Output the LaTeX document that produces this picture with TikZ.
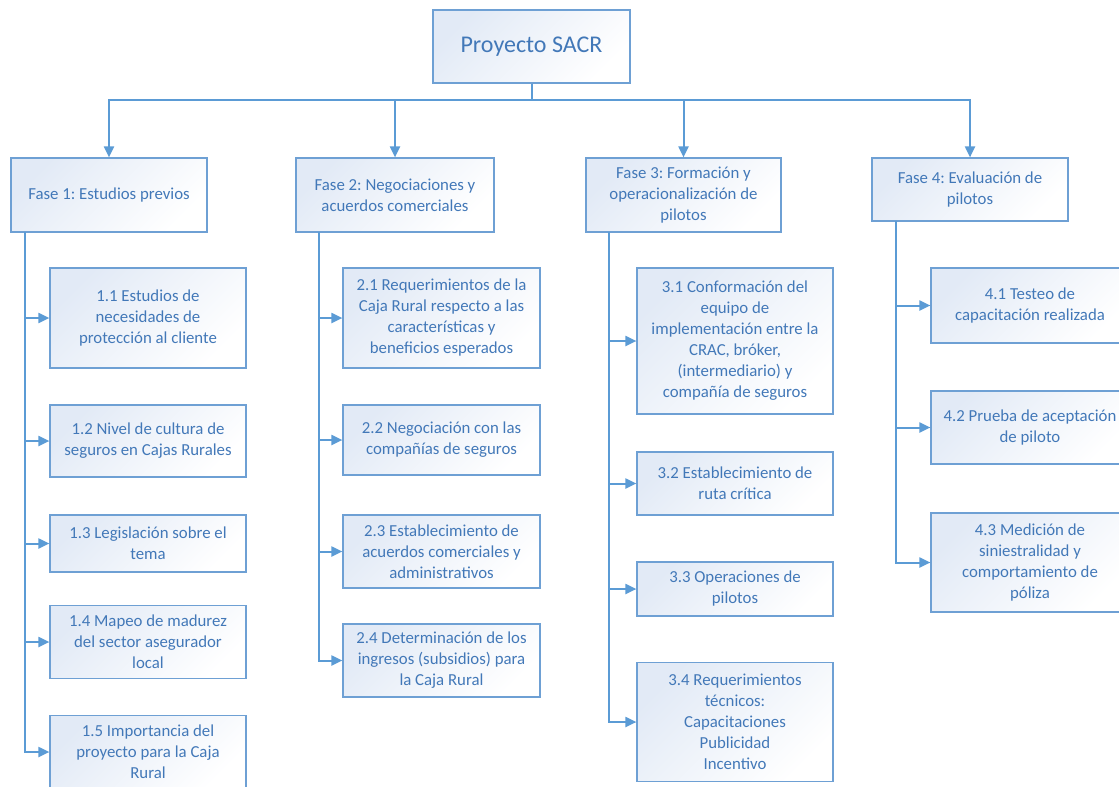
\documentclass[tikz,border=0pt]{standalone}
\usepackage{fontspec}
\setmainfont{Carlito}
\usepackage{tikz}
\usetikzlibrary{arrows.meta}
\usepackage{xcolor}
\definecolor{wbsline}{RGB}{91,155,213}
\definecolor{wbsborder}{RGB}{110,160,212}
\definecolor{wbstext}{RGB}{66,120,184}
\definecolor{wbsfill}{RGB}{226,234,246}
\frenchspacing

\begin{document}
\begin{tikzpicture}[x=1pt,y=-1pt]
          \useasboundingbox (0,0) rectangle (1119,787);
          \begin{scope}[every node/.style={draw=wbsborder,line width=1.2pt,text=wbstext,align=center,top color=wbsfill,bottom color=white,shading angle=45,inner sep=0pt,font=\fontsize{16.8}{21}\selectfont}]
            \node[minimum width=197pt,minimum height=73pt,font=\fontsize{24}{28}\selectfont] (root) at (531.5, 46.5) {Proyecto SACR};
            % fases
            \node[minimum width=196pt,minimum height=74pt] (f1) at (109, 195) {Fase 1: Estudios previos};
            \node[minimum width=198pt,minimum height=74pt] (f2) at (395, 195) {Fase 2: Negociaciones y\\acuerdos comerciales};
            \node[minimum width=195pt,minimum height=74pt] (f3) at (683.5, 195) {Fase 3: Formación y\\operacionalización de\\pilotos};
            \node[minimum width=196pt,minimum height=63pt] (f4) at (970, 189.5) {Fase 4: Evaluación de\\pilotos};
            % fase 1
            \node[minimum width=196pt,minimum height=100pt] (t11) at (148, 318) {1.1 Estudios de\\necesidades de\\protección al cliente};
            \node[minimum width=196pt,minimum height=72pt] (t12) at (148, 441) {1.2 Nivel de cultura de\\seguros en Cajas Rurales};
            \node[minimum width=196pt,minimum height=57pt] (t13) at (148, 543.5) {1.3 Legislación sobre el\\tema};
            \node[minimum width=196pt,minimum height=73pt] (t14) at (148, 642) {1.4 Mapeo de madurez\\del sector asegurador\\local};
            \node[minimum width=196pt,minimum height=73pt] (t15) at (148, 752) {1.5 Importancia del\\proyecto para la Caja\\Rural};
            % fase 2
            \node[minimum width=197pt,minimum height=100pt] (t21) at (441.5, 318) {2.1 Requerimientos de la\\Caja Rural respecto a las\\características y\\beneficios esperados};
            \node[minimum width=197pt,minimum height=70pt] (t22) at (441.5, 440) {2.2 Negociación con las\\compañías de seguros};
            \node[minimum width=197pt,minimum height=73pt] (t23) at (441.5, 551.5) {2.3 Establecimiento de\\acuerdos comerciales y\\administrativos};
            \node[minimum width=197pt,minimum height=73pt] (t24) at (441.5, 660.5) {2.4 Determinación de los\\ingresos (subsidios) para\\la Caja Rural};
            % fase 3
            \node[minimum width=196pt,minimum height=146pt] (t31) at (735, 341) {3.1 Conformación del\\equipo de\\implementación entre la\\CRAC, bróker,\\(intermediario) y\\compañía de seguros};
            \node[minimum width=196pt,minimum height=63pt] (t32) at (735, 483.5) {3.2 Establecimiento de\\ruta crítica};
            \node[minimum width=196pt,minimum height=54pt] (t33) at (735, 589) {3.3 Operaciones de\\pilotos};
            \node[minimum width=196pt,minimum height=119pt] (t34) at (735, 722) {3.4 Requerimientos\\técnicos:\\Capacitaciones\\Publicidad\\Incentivo};
            % fase 4
            \node[minimum width=198pt,minimum height=75pt] (t41) at (1030, 305.5) {4.1 Testeo de\\capacitación realizada};
            \node[minimum width=198pt,minimum height=73pt] (t42) at (1030, 427.5) {4.2 Prueba de aceptación\\de piloto};
            \node[minimum width=198pt,minimum height=99pt] (t43) at (1030, 562.5) {4.3 Medición de\\siniestralidad y\\comportamiento de\\póliza};
          \end{scope}
          \coordinate (bus) at (531.5, 100);
          \coordinate (s1) at (25, 232);
          \coordinate (s2) at (319, 232);
          \coordinate (s3) at (609, 232);
          \coordinate (s4) at (896, 221);
          \begin{scope}[every path/.style={->},>={Triangle[length=11pt,width=10pt]},line width=2pt,draw=wbsline]
            \draw (root) -- (bus) -| (f1);
            \draw (root) -- (bus) -| (f2);
            \draw (root) -- (bus) -| (f3);
            \draw (root) -- (bus) -| (f4);
            \draw (s1) |- (t11);
            \draw (s1) |- (t12);
            \draw (s1) |- (t13);
            \draw (s1) |- (t14);
            \draw (s1) |- (t15);
            \draw (s2) |- (t21);
            \draw (s2) |- (t22);
            \draw (s2) |- (t23);
            \draw (s2) |- (t24);
            \draw (s3) |- (t31);
            \draw (s3) |- (t32);
            \draw (s3) |- (t33);
            \draw (s3) |- (t34);
            \draw (s4) |- (t41);
            \draw (s4) |- (t42);
            \draw (s4) |- (t43);
          \end{scope}
        \end{tikzpicture}
\end{document}
